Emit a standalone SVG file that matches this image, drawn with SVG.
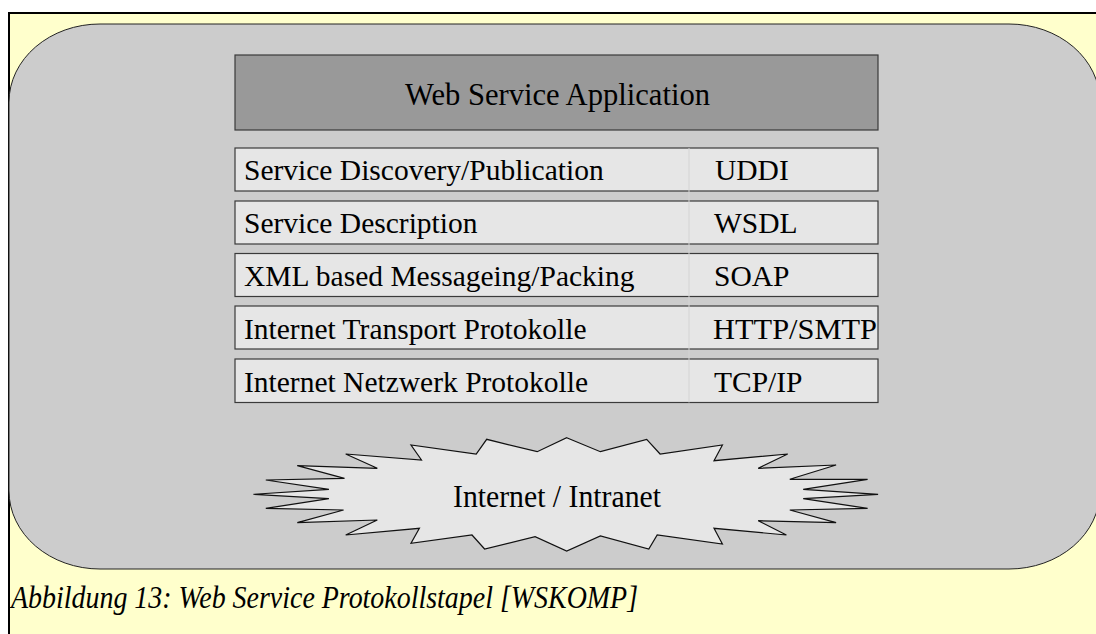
<svg xmlns="http://www.w3.org/2000/svg" width="1096" height="634" viewBox="0 0 1096 634">
  <style>
    .t { font-family: "Liberation Serif", "Times New Roman", serif; font-size: 29.5px; fill: #000; }
    .big { font-family: "Liberation Serif", "Times New Roman", serif; font-size: 32px; fill: #000; }
    .cap { font-family: "Liberation Serif", "Times New Roman", serif; font-size: 30.5px; font-style: italic; fill: #000; }
    .layer { fill: #e6e6e6; stroke: #3a3a3a; stroke-width: 1.2; }
  </style>
  <!-- page background and figure frame -->
  <rect x="0" y="0" width="1096" height="634" fill="#ffffff"/>
  <rect x="9" y="13" width="1100" height="640" fill="#ffffcc" stroke="#000" stroke-width="2"/>

  <!-- rounded container -->
  <g id="container">
    <rect x="9" y="24" width="1091" height="545" rx="91" ry="78" fill="#cccccc" stroke="#222" stroke-width="1"/>
  </g>

  <!-- application layer -->
  <g id="app">
    <rect x="235" y="55" width="643" height="75" fill="#999999" stroke="#3a3a3a" stroke-width="1.2"/>
    <text class="big" x="405" y="105" textLength="305" lengthAdjust="spacingAndGlyphs">Web Service Application</text>
  </g>

  <!-- protocol stack layers -->
  <g id="layer-uddi">
    <rect class="layer" x="235" y="148" width="643" height="43"/>
    <text class="t" x="244" y="179.5">Service Discovery/Publication</text>
    <text class="t" x="715" y="179.5">UDDI</text>
  </g>
  <g id="layer-wsdl">
    <rect class="layer" x="235" y="201" width="643" height="43"/>
    <text class="t" x="244" y="232.5">Service Description</text>
    <text class="t" x="714" y="232.5">WSDL</text>
  </g>
  <g id="layer-soap">
    <rect class="layer" x="235" y="253.5" width="643" height="43"/>
    <text class="t" x="244" y="286">XML based Messageing/Packing</text>
    <text class="t" x="714" y="286">SOAP</text>
  </g>
  <g id="layer-http">
    <rect class="layer" x="235" y="306" width="643" height="43"/>
    <text class="t" x="244" y="338.5">Internet Transport Protokolle</text>
    <text class="t" x="713" y="338.5" textLength="164" lengthAdjust="spacingAndGlyphs">HTTP/SMTP</text>
  </g>
  <g id="layer-tcp">
    <rect class="layer" x="235" y="359" width="643" height="43.5"/>
    <text class="t" x="244" y="391.5">Internet Netzwerk Protokolle</text>
    <text class="t" x="714" y="391.5">TCP/IP</text>
  </g>

  <!-- column divider -->
  <g id="connectors">
    <line x1="689" y1="148" x2="689" y2="402.5" stroke="#d4d4d4" stroke-width="1"/>
  </g>

  <!-- network starburst -->
  <g id="network">
    <polygon fill="#e6e6e6" stroke="#111" stroke-width="1.2" stroke-linejoin="miter"
      points="566.7,437.7 600.4,451.7 646.7,439.3 660.1,454 722.4,445 714,460.7 787.7,454 758.2,468.3 836.1,465 789.8,479.3 867.6,479.3 803.2,489.3 878.1,494.3 803.2,498.7 867.6,508.3 789.8,510 836.1,522.7 758.2,520.7 786.4,535 714,528.3 722.4,544 657.2,535 648.8,549 600.4,536 566.7,551 535.1,536.7 484.6,549 472,535 411,543.3 419.4,528.3 345.7,535 377.3,520 297.3,522.7 343.6,510 265.8,508.3 328.9,498.7 253.5,494.3 328.9,489.3 265.8,480 344.5,478.3 297.3,465.7 377.3,468.3 345.7,454 421.5,460 411,445 476.2,454 486.7,439.3 537.2,451.7"/>
    <text class="big" x="453" y="507" textLength="208" lengthAdjust="spacingAndGlyphs">Internet / Intranet</text>
  </g>

  <!-- caption -->
  <text class="cap" x="11" y="608" textLength="627" lengthAdjust="spacingAndGlyphs">Abbildung 13: Web Service Protokollstapel [WSKOMP]</text>
</svg>
